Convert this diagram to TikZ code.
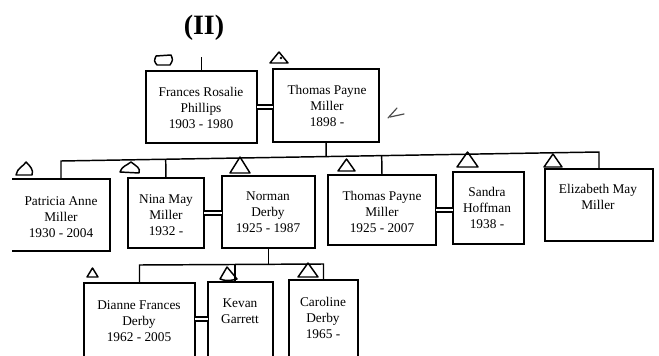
\documentclass[tikz,border=0pt]{standalone}
\usepackage{fontspec}
\setmainfont{Liberation Serif}
\usetikzlibrary{calc}
\tikzset{
  pbox/.style={draw, line width=1.3pt, inner sep=0pt, outer sep=0pt, rectangle},
  ptext/.style={align=center, inner sep=0pt, font=\fontsize{10}{12}\selectfont},
  link/.style={line width=1.1pt},
  spouse/.style={double, double distance=2.2pt, line width=0.9pt},
  hand/.style={line width=1.1pt, line join=round, line cap=round},
}
% \fbx[opts]{name}{x1}{y1}{x2}{y2}
\newcommand\fbx[6][]{\node[pbox,#1,minimum width={(#5-#3)*0.75pt},minimum height={(#6-#4)*0.75pt}] (#2) at ({(#3+#5)/2},{(#4+#6)/2}) {};}
% hand-drawn triangle: x1 y1 x2 y2 (apex top middle)
\newcommand\htri[4]{\draw[hand] (#1,#4) -- ({(#1+#3)/2},#2) -- (#3,#4) -- cycle;}
\begin{document}
\begin{tikzpicture}[x=0.75pt,y=-0.75pt]
\useasboundingbox (0,0) rectangle (659,356);

% ---- generation I ----
\fbx{fr}{146}{71}{257}{143}
\fbx{th}{273}{69}{379}{142}
\node[ptext] (frT) at (201,108) {Frances Rosalie\\Phillips\\1903 - 1980};
\node[ptext] (thT) at (327,106) {Thomas Payne\\Miller\\1898 -};
\draw[spouse] (fr.east) -- (fr.east -| th.west);
\draw[link] (fr.north) -- ++(0,-14) coordinate (frtop);
\node[font=\fontsize{21}{21}\selectfont\bfseries] (num) at (204,28) {(II)};

% ---- generation II ----
\node[pbox,draw=none,minimum width={98*0.75pt},minimum height={72*0.75pt}] (pa) at (61,215) {};
\draw[pbox] (pa.north west) -- (pa.north east) -- (pa.south east) -- (pa.south west);
\fbx{ni}{128}{178}{204}{248}
\fbx{no}{222}{176}{315}{248}
\fbx{tj}{328}{175}{436}{245}
\fbx{sa}{453}{172}{524}{244}
\fbx{el}{545}{169}{653}{241}
\node[ptext] (paT) at (61,217) {Patricia Anne\\Miller\\1930 - 2004};
\node[ptext] (niT) at (166,215) {Nina May\\Miller\\1932 -};
\node[ptext] (noT) at (268,212) {Norman\\Derby\\1925 - 1987};
\node[ptext] (tjT) at (382,212) {Thomas Payne\\Miller\\1925 - 2007};
\node[ptext] (saT) at (487,208) {Sandra\\Hoffman\\1938 -};
\node[ptext] (elT) at (598,197) {Elizabeth May\\Miller};
\draw[spouse] (ni.east) -- (ni.east -| no.west);
\draw[spouse] (tj.east) -- (tj.east -| sa.west);

\coordinate (busL) at (pa.north |- 0,161);
\coordinate (busR) at (el.north |- 0,152);
\draw[link] (pa.north) -- (busL) -- (busR) -- (el.north);
\draw[link] (th.south) -- ($(busL)!(th.south)!(busR)$);
\draw[link] (ni.north) -- ($(busL)!(ni.north)!(busR)$);
\draw[link] (tj.north) -- ($(busL)!(tj.north)!(busR)$);

% ---- generation III ----
\fbx{di}{84}{283}{195}{370}
\fbx{kv}{208}{282}{273}{370}
\fbx{ca}{289}{280}{358}{370}
\node[ptext] (diT) at (139,321) {Dianne Frances\\Derby\\1962 - 2005};
\node[ptext] (kvT) at (240,311) {Kevan\\Garrett};
\node[ptext] (caT) at (323,318) {Caroline\\Derby\\1965 -};
\draw[spouse] (di.east |- 0,319) -- (kv.west |- 0,319);

\coordinate (bus2L) at (di.north |- 0,265);
\coordinate (bus2R) at (ca.north |- 0,264);
\draw[link] (di.north) -- (bus2L) -- (bus2R) -- (ca.north);
\draw[link] (no.south) -- (no.south |- bus2L);
\draw[link] ([xshift=-4pt]kv.north) -- ([xshift=-4pt]kv.north |- bus2L);

% ---- hand-drawn marks ----
\draw[hand] (156,56) -- (171,55) .. controls (173,60) .. (170,65) -- (157,65) .. controls (154,61) .. (156,56);
\htri{270}{52}{288}{63}
\fill (281,58) circle (1.3);
\draw[hand, line width=0.9pt, black!70] (388,118) -- (397,108);
\draw[hand, line width=0.9pt, black!70] (390,117) -- (404,114);
\draw[hand] (16,175) .. controls (17,168) and (24,166) .. (26,162) .. controls (30,166) and (34,170) .. (32,175) -- cycle;
\draw[hand] (120,172) .. controls (122,166) and (126,166) .. (131,162) .. controls (136,166) and (141,168) .. (139,173) -- cycle;
\htri{230}{157}{250}{173}
\htri{338}{159}{355}{171}
\htri{457}{152}{478}{167}
\htri{544}{154}{562}{167}
\htri{87}{268}{98}{277}
\draw[hand] (220,279) -- (227,267) -- (237,279) .. controls (230,281) and (225,281) .. (220,279);
\htri{298}{263}{318}{277}
\end{tikzpicture}
\end{document}
